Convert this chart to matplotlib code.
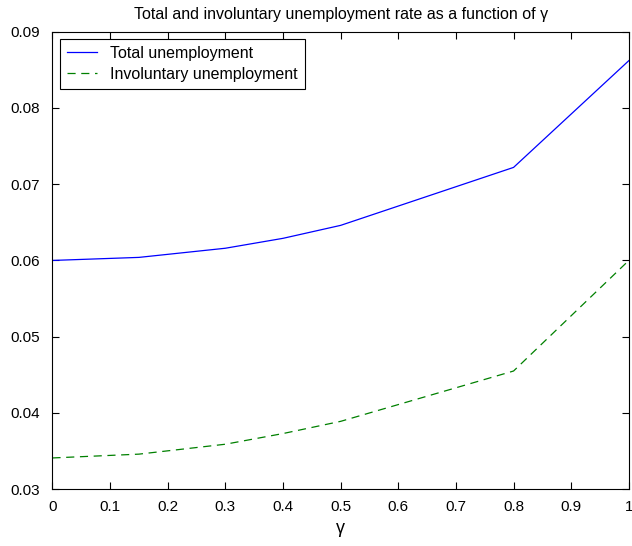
import numpy as np
import matplotlib
matplotlib.use('Agg')
import matplotlib.pyplot as plt

# Data
gamma = [0, 0.15, 0.3, 0.4, 0.5, 0.8, 1.0]
total = [0.0600, 0.0604, 0.0616, 0.0629, 0.0646, 0.0722, 0.0862]
invol = [0.0341, 0.0346, 0.0359, 0.0373, 0.0389, 0.0455, 0.0600]

plt.rcParams['font.family'] = ['Liberation Sans', 'DejaVu Sans']

fig = plt.figure(figsize=(6.32, 5.46), dpi=100)
ax = fig.add_axes([0.083, 0.104, 0.912, 0.838])

ax.plot(gamma, total, color='blue', lw=0.9, label='Total unemployment')
ax.plot(gamma, invol, color='green', lw=0.9, ls=(0, (6.5, 4.5)), label='Involuntary unemployment')

ax.set_xlim(0, 1)
ax.set_ylim(0.03, 0.09)
ax.set_xticks(np.arange(0, 1.01, 0.1))
ax.set_xticklabels(['0', '0.1', '0.2', '0.3', '0.4', '0.5', '0.6', '0.7', '0.8', '0.9', '1'])
ax.set_yticks(np.arange(0.03, 0.0901, 0.01))
ax.set_yticklabels(['0.03', '0.04', '0.05', '0.06', '0.07', '0.08', '0.09'])
ax.tick_params(direction='in', top=True, right=True, labelsize=11, length=5, width=0.8)
ax.tick_params(axis='y', pad=9)
ax.tick_params(axis='x', pad=8)
for s in ax.spines.values():
    s.set_linewidth(0.8)

ax.set_title('Total and involuntary unemployment rate as a function of \u03b3', fontsize=11.5, pad=9)
ax.set_xlabel('\u03b3', fontsize=13, labelpad=4)

leg = ax.legend(loc='upper left', fontsize=11.5, fancybox=False, edgecolor='black',
                framealpha=1, borderaxespad=0.45, handlelength=1.9, handletextpad=0.8,
                labelspacing=0.35, borderpad=0.45)
leg.get_frame().set_linewidth(0.8)

fig.savefig('out.png', dpi=100)
